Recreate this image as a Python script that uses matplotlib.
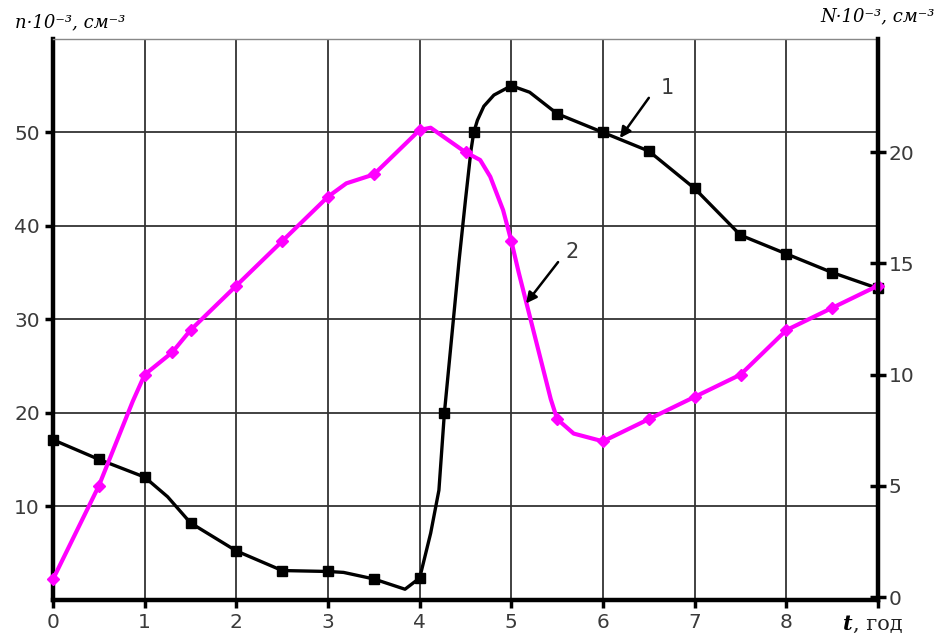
import matplotlib.pyplot as plt
import numpy as np

# крива 1: n (ліва вісь), крива 2: N (права вісь)
t1 = [0, 0.5, 1, 1.5, 2, 2.5, 3, 3.5, 4, 4.27, 4.59, 5, 5.5, 6, 6.5, 7, 7.5, 8, 8.5, 9]
n1 = [17.1, 15, 13.1, 8.2, 5.2, 3.1, 3, 2.2, 2.3, 20, 50, 55, 52, 50, 48, 44, 39, 37, 35, 33.3]
# додаткові точки, зчитані з кривої (між маркерами)
t1_extra = [1.25, 3.17, 3.84, 4.12, 4.21, 4.43, 4.5, 4.56, 4.63, 4.7, 4.81, 5.2]
n1_extra = [11.0, 2.9, 1.1, 7.1, 11.7, 36.3, 42.8, 48.1, 51.3, 52.8, 54.0, 54.3]

t2 = [0, 0.5, 1, 1.3, 1.5, 2, 2.5, 3, 3.5, 4, 4.5, 5, 5.5, 6, 6.5, 7, 7.5, 8, 8.5, 9]
N2 = [0.8, 5, 10, 11, 12, 14, 16, 18, 19, 21, 20, 16, 8, 7, 8, 9, 10, 12, 13, 14]
t2_extra = [0.87, 3.2, 4.12, 4.66, 4.77, 4.91, 5.08, 5.43, 5.68]
N2_extra = [8.8, 18.6, 21.1, 19.65, 18.9, 17.4, 14.6, 8.9, 7.35]

xticks = [0, 1, 2, 3, 4, 5, 6, 7, 8, 9]
xticklabels = ['0', '1', '2', '3', '4', '5', '6', '7', '8', '']
yticks_left = [10, 20, 30, 40, 50]
yticks_right = [0, 5, 10, 15, 20]


def merged(t, v, te, ve):
    tt = np.array(list(t) + list(te))
    vv = np.array(list(v) + list(ve))
    order = np.argsort(tt)
    return tt[order], vv[order]


W, H = 939, 637
fig = plt.figure(figsize=(W / 100, H / 100), dpi=100)
ax = fig.add_axes([53 / W, 1 - 599.5 / H, (878 - 53) / W, (599.5 - 39) / H])
ax2 = ax.twinx()

tick_color = '#3a3a3a'

ax.set_xlim(0, 9)
ax.set_ylim(0, 60)
ax2.set_ylim(-0.11, 25.09)

ax.set_xticks(xticks)
ax.set_xticklabels(xticklabels)
ax.set_yticks(yticks_left)
ax2.set_yticks(yticks_right)

ax.grid(True, color='#333333', lw=1.3)
ax.set_axisbelow(True)

ax.tick_params(axis='both', labelsize=14.5, labelcolor=tick_color, width=2.5, length=6, direction='out')
ax.tick_params(axis='x', pad=4)
ax2.tick_params(axis='y', labelsize=14.5, labelcolor=tick_color, width=2.5, length=11, direction='inout', pad=2)

for s in ['left', 'bottom']:
    ax.spines[s].set_linewidth(3.2)
ax.spines['top'].set_linewidth(1.0)
ax.spines['top'].set_color('#888888')
ax.spines['right'].set_visible(False)
for s in ['left', 'bottom', 'top']:
    ax2.spines[s].set_visible(False)
ax2.spines['right'].set_linewidth(3.2)

# крива 1
lt, lv = merged(t1, n1, t1_extra, n1_extra)
ax.plot(lt, lv, color='black', lw=2.4, solid_joinstyle='round', clip_on=False)
ax.plot(t1, n1, ls='none', marker='s', ms=6.5, color='black', clip_on=False)

# крива 2
lt, lv = merged(t2, N2, t2_extra, N2_extra)
ax2.plot(lt, lv, color='#ff00ff', lw=3.0, solid_joinstyle='round', clip_on=False)
ax2.plot(t2, N2, ls='none', marker='D', ms=6.5, color='#ff00ff', clip_on=False)

# стрілки з номерами кривих
arrow = dict(arrowstyle='-|>', color='black', lw=1.8, mutation_scale=16, shrinkA=0, shrinkB=0)
ax.annotate('', xy=(6.185, 49.4), xytext=(6.50, 53.7), arrowprops=arrow)
ax.text(6.70, 54.75, '1', fontsize=15, color=tick_color, ha='center', va='center')
ax2.annotate('', xy=(5.16, 13.2), xytext=(5.51, 15.06), arrowprops=arrow)
ax2.text(5.66, 15.5, '2', fontsize=15, color=tick_color, ha='center', va='center')

# підписи осей
fig.text(15 / W, 1 - 22 / H, 'n·10⁻³, см⁻³', family='DejaVu Serif', style='italic',
         fontsize=13, va='center', ha='left')
fig.text(935 / W, 1 - 16 / H, 'N·10⁻³, см⁻³', family='DejaVu Serif', style='italic',
         fontsize=13, va='center', ha='right')
fig.text(843 / W, 1 - 624 / H, 't', family='DejaVu Serif', style='italic', weight='bold',
         fontsize=15, va='center', ha='left')
fig.text(853 / W, 1 - 624 / H, ', год', family='DejaVu Serif', fontsize=15,
         color='#222222', va='center', ha='left')

fig.savefig('out.png', dpi=100)
